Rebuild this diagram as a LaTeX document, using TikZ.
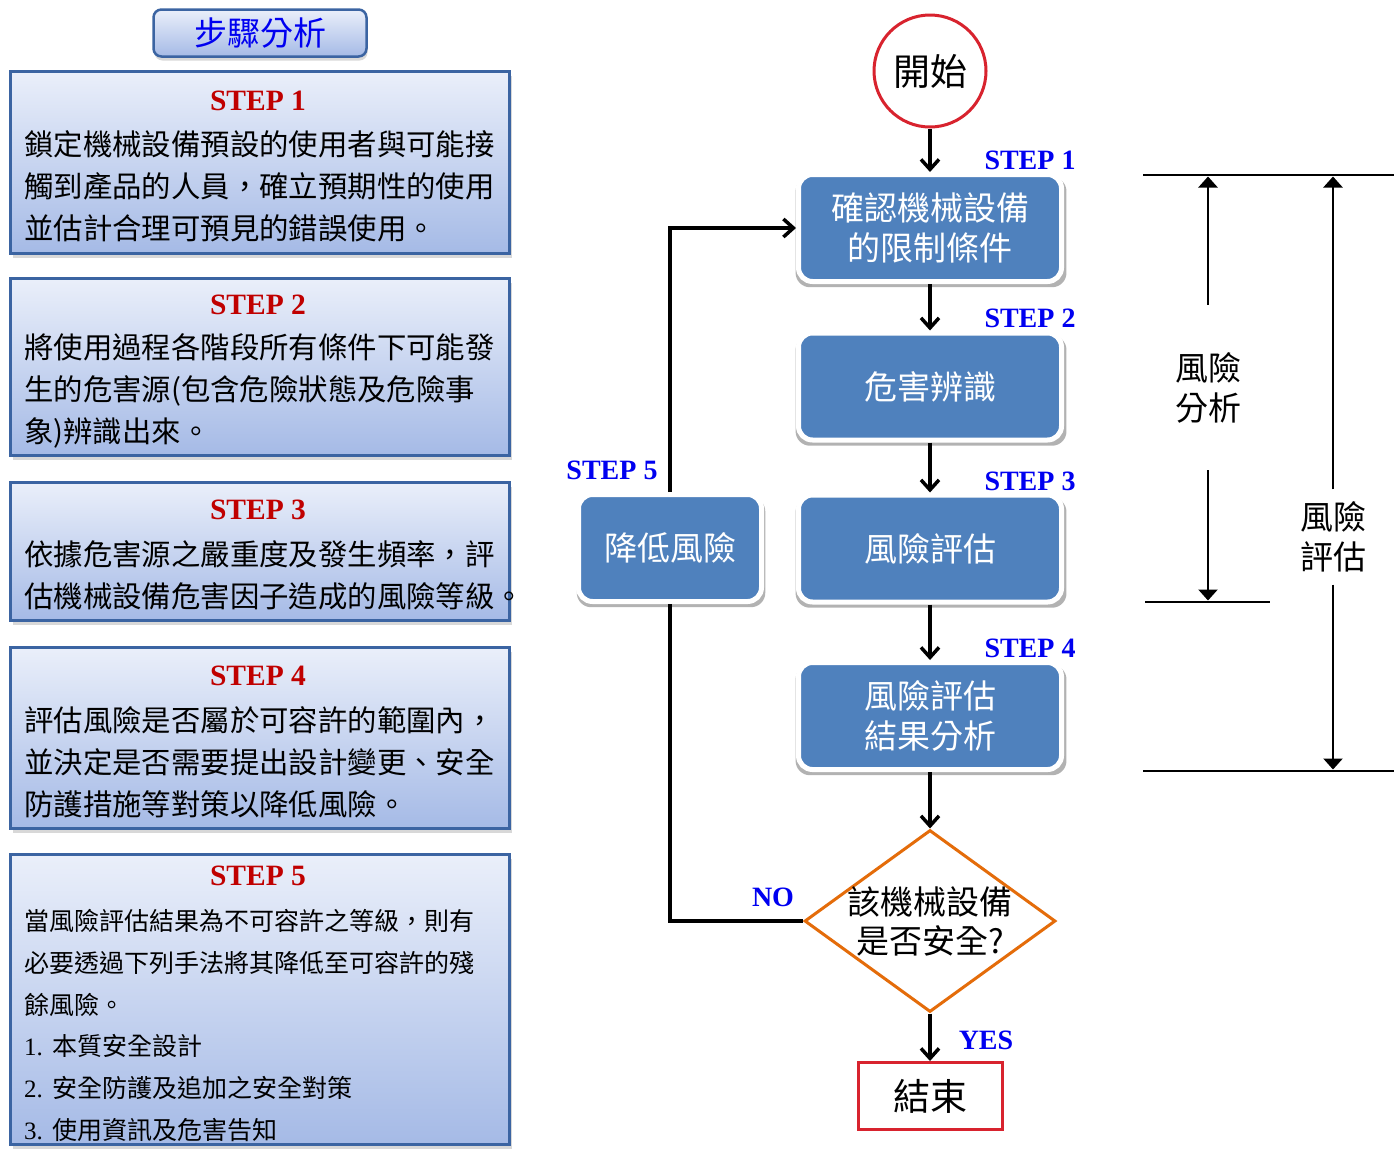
\documentclass[tikz,border=0pt]{standalone}
\usepackage{fontspec}
\setmainfont{Noto Sans CJK TC}
\newfontfamily\tms{Liberation Serif}
\usetikzlibrary{arrows.meta,shapes.geometric,shadows}
\definecolor{boxline}{HTML}{3B64A2}
\definecolor{gradtop}{HTML}{EAEFFA}
\definecolor{gradbot}{HTML}{A5BAE6}
\definecolor{flowblue}{HTML}{4F81BD}
\definecolor{stepred}{HTML}{C00000}
\definecolor{labelblue}{HTML}{0000F0}
\definecolor{startred}{HTML}{D8232E}
\definecolor{decorange}{HTML}{E46C0A}
\newcommand{\fsz}[2]{\fontsize{#1}{#2}\selectfont}

\begin{document}
\begin{tikzpicture}[x=1pt,y=-1pt,
    titlebox/.style={draw=boxline,line width=2.5pt,rounded corners=8pt,top color=gradtop,bottom color=gradbot,
        minimum width=213pt,minimum height=47pt,inner sep=0pt,text=labelblue,font=\fsz{33}{40},
        drop shadow={opacity=0.3,shadow xshift=1pt,shadow yshift=-4pt}},
    stepbox/.style={draw=boxline,line width=3pt,top color=gradtop,bottom color=gradbot,minimum width=499pt,
        drop shadow={opacity=0.3,shadow xshift=2pt,shadow yshift=-4pt}},
    steptitle/.style={text=stepred,font=\tms\bfseries\fsz{29.5}{34},inner sep=0pt},
    stepbody/.style={anchor=west,align=left,inner sep=0pt,font=\fsz{29.4}{42}},
    flowbox/.style={rounded corners=14pt,fill=flowblue,draw=white,line width=5pt,text=white,
        minimum width=263pt,minimum height=107pt,align=center,inner sep=0pt,font=\fsz{33}{40},
        general shadow={fill=black,opacity=0.3,shadow scale=1.03,shadow xshift=1pt,shadow yshift=-4pt}},
    flowlabel/.style={text=labelblue,font=\tms\bfseries\fsz{28}{32},inner sep=0pt},
    flowline/.style={line width=3.5pt},
    flowarrow/.style={line width=3.5pt,-{Straight Barb[length=10pt,width=18pt]}},
    dimline/.style={line width=2.5pt},
    dimarrow/.style={line width=2.5pt,-{Triangle[length=11pt,width=19pt]}},
    dimtext/.style={align=center,inner sep=0pt,font=\fsz{33}{40}}]

    \path[use as bounding box,fill=white] (0,0) rectangle (1394,1168);

    \node[titlebox] (title) at (260,33) {步驟分析};

    \node[stepbox,minimum height=182pt] (s1box) at (260,162.5) {};
    \node[steptitle] (s1title) at (258,101) {STEP 1};
    \node[stepbody] (s1body) at (24,186) {鎖定機械設備預設的使用者與可能接\\觸到產品的人員，確立預期性的使用\\並估計合理可預見的錯誤使用。};

    \node[stepbox,minimum height=177pt] (s2box) at (260,367) {};
    \node[steptitle] (s2title) at (258,305) {STEP 2};
    \node[stepbody] (s2body) at (24,391) {將使用過程各階段所有條件下可能發\\生的危害源(包含危險狀態及危險事\\象)辨識出來。};

    \node[stepbox,minimum height=138pt] (s3box) at (260,551.5) {};
    \node[steptitle] (s3title) at (258,510) {STEP 3};
    \node[stepbody] (s3body) at (24,575) {依據危害源之嚴重度及發生頻率，評\\估機械設備危害因子造成的風險等級。};

    \node[stepbox,minimum height=181pt] (s4box) at (260,738) {};
    \node[steptitle] (s4title) at (258,676) {STEP 4};
    \node[stepbody] (s4body) at (24,762) {評估風險是否屬於可容許的範圍內，\\並決定是否需要提出設計變更、安全\\防護措施等對策以降低風險。};

    \node[stepbox,minimum height=290pt] (s5box) at (260,999.5) {};
    \node[steptitle] (s5title) at (258,876) {STEP 5};
    \node[stepbody,font=\fsz{25}{41.8}] (s5body) at (24,1025.5) {當風險評估結果為不可容許之等級，則有\\必要透過下列手法將其降低至可容許的殘\\餘風險。\\{\tms 1.}\hspace{10pt}本質安全設計\\{\tms 2.}\hspace{10pt}安全防護及追加之安全對策\\{\tms 3.}\hspace{10pt}使用資訊及危害告知};

    \node[circle,draw=startred,line width=3pt,minimum size=112pt,inner sep=0pt,font=\fsz{37}{40}] (start) at (930,71) {開始};
    \node[flowbox] (cond) at (930,228) {確認機械設備\\的限制條件};
    \node[flowbox] (hazard) at (930,386.5) {危害辨識};
    \node[flowbox] (evaluate) at (930,548.5) {風險評估};
    \node[flowbox] (result) at (930,716) {風險評估\\結果分析};
    \node[flowbox,minimum width=183pt] (reduce) at (670,548) {降低風險};
    \node[diamond,draw=decorange,line width=3pt,fill=white,minimum width=251pt,minimum height=182pt,inner sep=0pt] (safe) at (930,921) {};
    \node[align=center,inner sep=0pt,font=\fsz{33}{39}] (safetext) at (safe.center) {該機械設備\\是否安全?};
    \node[draw=startred,line width=3pt,minimum width=144pt,minimum height=67pt,inner sep=0pt,font=\fsz{37}{40}] (finish) at (930,1096) {結束};

    \node[flowlabel] (lab1) at (1030,160) {STEP 1};
    \node[flowlabel] (lab2) at (1030,318) {STEP 2};
    \node[flowlabel] (lab3) at (1030,481) {STEP 3};
    \node[flowlabel] (lab4) at (1030,648) {STEP 4};
    \node[flowlabel] (lab5) at (612,470) {STEP 5};
    \node[flowlabel] (labno) at (773,897) {NO};
    \node[flowlabel] (labyes) at (986,1040) {YES};

    \foreach \a/\b in {start/cond,cond/hazard,hazard/evaluate,evaluate/result,result/safe,safe/finish}
        \draw[flowarrow] (\a) -- (\b);
    \draw[flowline] (safe.west) -| (reduce.south);
    \draw[flowarrow] (reduce.north) |- (cond.west);

    \coordinate (dtopl) at (1143,175);
    \coordinate (dtopr) at (1394,175);
    \coordinate (dmidl) at (1145,602);
    \coordinate (dmidr) at (1270,602);
    \coordinate (dbotl) at (1143,771);
    \coordinate (dbotr) at (1394,771);
    \draw[dimline] (dtopl) -- (dtopr);
    \draw[dimline] (dmidl) -- (dmidr);
    \draw[dimline] (dbotl) -- (dbotr);

    \node[dimtext,minimum height=165pt] (analysis) at (1208,387.5) {風險\\分析};
    \coordinate (atop) at (1208,176.5);
    \coordinate (abot) at (1208,600.5);
    \draw[dimarrow] (analysis.north) -- (atop);
    \draw[dimarrow] (analysis.south) -- (abot);

    \node[dimtext,minimum height=95pt] (assess) at (1333,537) {風險\\評估};
    \coordinate (etop) at (1333,176.5);
    \coordinate (ebot) at (1333,769.5);
    \draw[dimarrow] (assess.north) -- (etop);
    \draw[dimarrow] (assess.south) -- (ebot);
\end{tikzpicture}
\end{document}
